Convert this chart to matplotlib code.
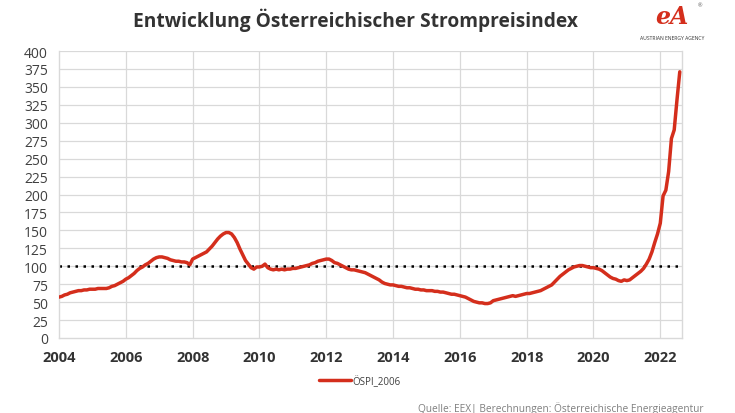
import numpy as np
import matplotlib
matplotlib.use("Agg")
import matplotlib.pyplot as plt

# Monthly values (Jan 2004 - Aug 2022)
v2004 = [57, 58, 60, 61, 63, 64, 65, 66, 66, 67, 67, 68]
v2005 = [68, 68, 69, 69, 69, 69, 70, 72, 73, 75, 77, 79]
v2006 = [82, 84, 87, 90, 94, 97, 99, 102, 104, 107, 110, 112]
v2007 = [113, 113, 112, 111, 109, 108, 107, 107, 106, 106, 105, 102]
v2008 = [110, 112, 114, 116, 118, 120, 124, 128, 133, 138, 142, 145]
v2009 = [147, 147, 145, 140, 133, 124, 116, 108, 103, 98, 96, 99]
v2010 = [99, 100, 103, 98, 96, 95, 96, 95, 96, 95, 96, 96]
v2011 = [97, 97, 98, 99, 100, 101, 102, 104, 105, 107, 108, 109]
v2012 = [110, 110, 108, 105, 104, 102, 100, 98, 96, 95, 95, 94]
v2013 = [93, 92, 91, 89, 87, 85, 83, 81, 78, 76, 75, 74]
v2014 = [74, 73, 72, 72, 71, 70, 70, 69, 68, 68, 67, 67]
v2015 = [66, 66, 66, 65, 65, 64, 64, 63, 62, 61, 61, 60]
v2016 = [59, 58, 57, 55, 53, 51, 50, 49, 49, 48, 48, 49]
v2017 = [52, 53, 54, 55, 56, 57, 58, 59, 58, 59, 60, 61]
v2018 = [62, 62, 63, 64, 65, 66, 68, 70, 72, 74, 78, 82]
v2019 = [86, 89, 92, 95, 97, 99, 100, 101, 101, 100, 99, 98]
v2020 = [98, 97, 96, 94, 91, 88, 85, 83, 82, 80, 79, 81]
v2021 = [80, 81, 84, 87, 90, 93, 97, 103, 110, 120, 133, 145]
v2022 = [160, 198, 206, 232, 278, 290, 332, 371]

yearly = [v2004, v2005, v2006, v2007, v2008, v2009, v2010, v2011, v2012,
          v2013, v2014, v2015, v2016, v2017, v2018, v2019, v2020, v2021, v2022]
start_year = 2004
values = [v for yr in yearly for v in yr]
x = [start_year + i / 12 for i in range(len(values))]

reference_level = 100
x_ticks = [2004, 2006, 2008, 2010, 2012, 2014, 2016, 2018, 2020, 2022]
y_ticks = list(range(0, 401, 25))
series_label = "ÖSPI_2006"
title = "Entwicklung Österreichischer Strompreisindex"
source = "Quelle: EEX| Berechnungen: Österreichische Energieagentur"

plt.rcParams['font.family'] = ['Open Sans', 'DejaVu Sans']

fig = plt.figure(figsize=(7.35, 4.14), dpi=100)
ax = fig.add_axes([59/735, 1-339/414, (682-59)/735, (339-52)/414])

grid_c = "#d9d9d9"
for yv in y_ticks[1:]:
    ax.axhline(yv, color=grid_c, lw=0.9, zorder=0)
for xv in x_ticks[1:]:
    ax.axvline(xv, color=grid_c, lw=0.9, zorder=0)

ax.plot(x, values, color="#d42e1c", lw=2.5, solid_capstyle="round",
        label=series_label, zorder=3)
ax.axhline(reference_level, color="black", lw=1.8, ls=(0, (1, 2.2)), zorder=2)

ax.set_xlim(2004, 2022.65)
ax.set_ylim(0, 400)
ax.set_xticks(x_ticks)
ax.set_xticklabels([str(t) for t in x_ticks], fontweight="bold", fontsize=10.5, color="#333333")
ax.set_yticks(y_ticks)
ax.set_yticklabels([str(t) for t in y_ticks], fontsize=10, color="#404040")
ax.tick_params(length=0, pad=9, axis="x")
ax.tick_params(length=0, pad=8, axis="y")
for s in ax.spines.values():
    s.set_color(grid_c)
    s.set_linewidth(1.0)
ax.spines["top"].set_visible(False)

fig.text(355/735, 1-20/414, title, ha="center", va="center",
         fontsize=13.8, fontweight="bold", color="#333333")

leg = fig.legend(loc="center", bbox_to_anchor=(360/735, 1-382/414), frameon=False,
                 fontsize=7, handlelength=3.2, handletextpad=0.2)
for t in leg.get_texts():
    t.set_color("#404040")

fig.text(703/735, 1-409/414, source, ha="right", va="center", fontsize=7.3, color="#7f7f7f")

# logo approximation
fig.text(672/735, 1-17/414, "eA", ha="center", va="center", fontsize=17,
         fontstyle="italic", fontweight="bold", color="#d42e1c", family="DejaVu Serif")
fig.text(700/735, 1-6/414, "®", ha="center", va="center", fontsize=4, color="#555555")
fig.text(672/735, 1-38/414, "AUSTRIAN ENERGY AGENCY", ha="center", va="center",
         fontsize=3.6, color="#333333")

fig.savefig("out.png", dpi=100)
